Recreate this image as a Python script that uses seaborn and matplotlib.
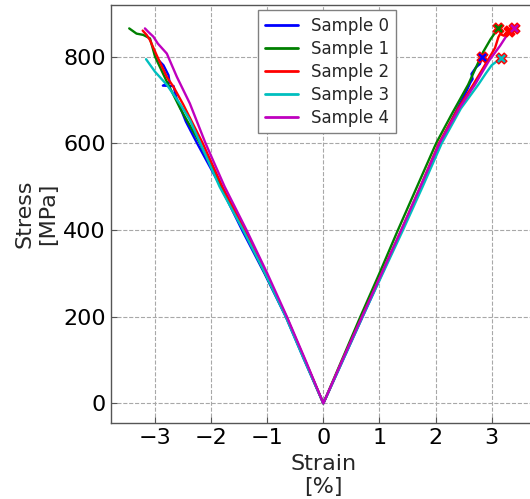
import numpy as np
import pandas as pd
import matplotlib
matplotlib.use("Agg")
import matplotlib.pyplot as plt
import seaborn as sns

sns.set_style("ticks")
plt.rcParams['font.family'] = ['DejaVu Sans']

samples = ["Sample 0", "Sample 1", "Sample 2", "Sample 3", "Sample 4"]
colors = ["#0000ff", "#008000", "#ff0000", "#00bfbf", "#bf00bf"]

# Tension branch (strain %, stress MPa), from origin outward
s0_tens_strain = [0, 0.35, 0.70, 1.05, 1.40, 1.75, 2.08, 2.35, 2.55, 2.62, 2.66, 2.64, 2.72, 2.79, 2.83]
s0_tens_stress = [0, 100, 200, 300, 400, 500, 600, 670, 720, 740, 748, 760, 775, 783, 800]
s1_tens_strain = [0, 0.33, 0.66, 1.00, 1.33, 1.67, 2.01, 2.30, 2.58, 2.72, 2.85, 2.98, 3.12]
s1_tens_stress = [0, 100, 200, 300, 400, 500, 600, 670, 735, 775, 811, 840, 866]
s2_tens_strain = [0, 0.34, 0.69, 1.04, 1.39, 1.73, 2.06, 2.40, 2.67, 2.90, 3.06, 3.12, 3.15, 3.22, 3.28, 3.35, 3.30]
s2_tens_stress = [0, 100, 200, 300, 400, 500, 600, 680, 735, 785, 820, 845, 852, 848, 858, 855, 860]
s3_tens_strain = [0, 0.35, 0.70, 1.06, 1.42, 1.77, 2.11, 2.45, 2.76, 2.90, 3.00, 3.10, 3.17]
s3_tens_stress = [0, 100, 200, 300, 400, 500, 600, 680, 735, 762, 780, 790, 796]
s4_tens_strain = [0, 0.34, 0.69, 1.04, 1.39, 1.73, 2.07, 2.42, 2.70, 2.95, 3.15, 3.25, 3.33, 3.40]
s4_tens_stress = [0, 100, 200, 300, 400, 500, 600, 680, 735, 790, 825, 845, 861, 865]

# Compression branch (strain %, |stress| MPa), from origin outward
s0_comp_strain = [0, -0.34, -0.67, -1.05, -1.45, -1.83, -2.25, -2.45, -2.62, -2.67, -2.86, -2.74, -2.76, -2.85, -2.94]
s0_comp_stress = [0, 100, 200, 300, 400, 500, 600, 650, 705, 732, 733, 740, 757, 780, 792]
s1_comp_strain = [0, -0.33, -0.66, -1.04, -1.42, -1.82, -2.20, -2.55, -2.80, -3.00, -3.09, -3.21, -3.33, -3.46]
s1_comp_stress = [0, 100, 200, 300, 400, 500, 600, 680, 745, 800, 842, 850, 853, 865]
s2_comp_strain = [0, -0.33, -0.66, -1.03, -1.40, -1.80, -2.15, -2.50, -2.67, -2.79, -2.97, -3.09, -3.15, -3.22]
s2_comp_stress = [0, 100, 200, 300, 400, 500, 600, 690, 730, 753, 803, 838, 850, 860]
s3_comp_strain = [0, -0.34, -0.67, -1.04, -1.43, -1.85, -2.22, -2.38, -2.55, -2.79, -3.00, -3.16]
s3_comp_stress = [0, 100, 200, 300, 400, 500, 608, 654, 690, 735, 765, 794]
s4_comp_strain = [0, -0.32, -0.65, -1.00, -1.37, -1.76, -2.10, -2.38, -2.61, -2.79, -2.95, -3.03, -3.12, -3.18]
s4_comp_stress = [0, 100, 200, 300, 400, 500, 600, 692, 753, 807, 830, 846, 857, 865]

tens_strain = [s0_tens_strain, s1_tens_strain, s2_tens_strain, s3_tens_strain, s4_tens_strain]
tens_stress = [s0_tens_stress, s1_tens_stress, s2_tens_stress, s3_tens_stress, s4_tens_stress]
comp_strain = [s0_comp_strain, s1_comp_strain, s2_comp_strain, s3_comp_strain, s4_comp_strain]
comp_stress = [s0_comp_stress, s1_comp_stress, s2_comp_stress, s3_comp_stress, s4_comp_stress]

x_ticks = [-3, -2, -1, 0, 1, 2, 3]
y_ticks = [0, 200, 400, 600, 800]

W, H = 530, 499
fig = plt.figure(figsize=(W / 100, H / 100), dpi=100)
left_px, right_px, top_px, bot_px = 110.7, 536.0, 5.0, 423.3
ax = fig.add_axes([left_px / W, (H - bot_px) / H, (right_px - left_px) / W, (bot_px - top_px) / H])

for i, name in enumerate(samples):
    xs = list(reversed(comp_strain[i])) + tens_strain[i][1:]
    ys = list(reversed(comp_stress[i])) + tens_stress[i][1:]
    df = pd.DataFrame({"strain": xs, "stress": ys})
    sns.lineplot(data=df, x="strain", y="stress", sort=False, estimator=None,
                 color=colors[i], linewidth=1.7, label=name, ax=ax)

for i, name in enumerate(samples):
    end = pd.DataFrame({"strain": [tens_strain[i][-1]], "stress": [tens_stress[i][-1]]})
    sns.scatterplot(data=end, x="strain", y="stress", marker="X", s=60,
                    color=colors[i], edgecolor="red", linewidth=1.0, ax=ax, zorder=5,
                    legend=False)

ax.set_xlim(-3.79, 3.79)
ax.set_ylim(-46, 919)
ax.set_xticks(x_ticks)
ax.set_yticks(y_ticks)
ax.grid(True, linestyle="--", color="#a8a8a8", linewidth=0.8)
ax.set_axisbelow(True)
ax.tick_params(direction="in", length=4, color="#555555", labelsize=16, labelcolor="black")
for sp in ax.spines.values():
    sp.set_color("#555555")
    sp.set_linewidth(1.0)
ax.set_xlabel("Strain\n[%]", fontsize=16)
ax.set_ylabel("Stress\n[MPa]", fontsize=16)

leg = ax.legend(loc="upper left", bbox_to_anchor=(0.3463, 0.988), borderaxespad=0,
                fontsize=12, labelspacing=0.3, fancybox=False, framealpha=1,
                edgecolor="#808080")
for line in leg.get_lines():
    line.set_linewidth(2.0)

fig.savefig("out.png", dpi=100)
